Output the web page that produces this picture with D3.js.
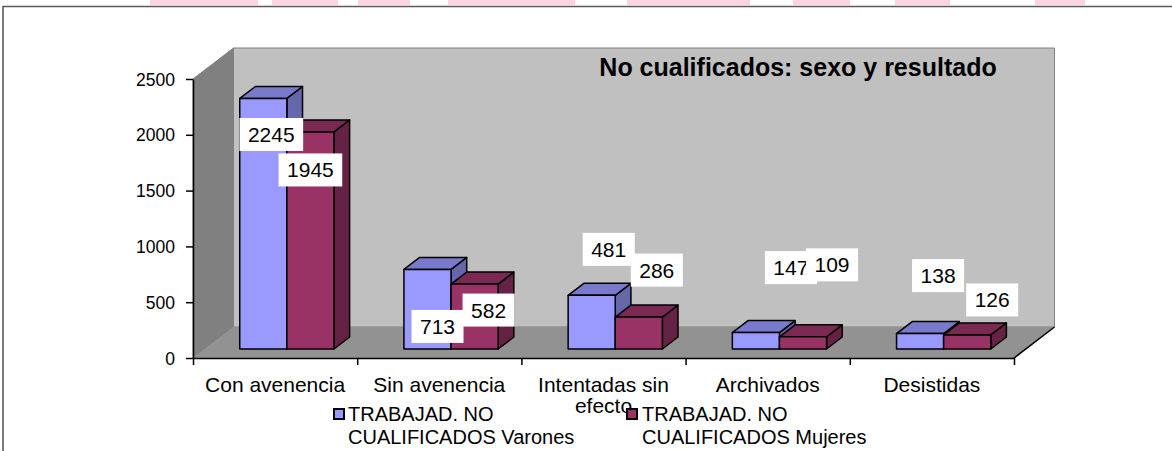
<!DOCTYPE html>
<html><head><meta charset="utf-8">
<script src="https://cdn.jsdelivr.net/npm/d3@7"></script>
<style>
body{margin:0;background:#fff}
svg{display:block}
text{font-family:Arial,"Liberation Sans",sans-serif;fill:#000}
</style>
</head><body>
<svg id="c" width="1172" height="451"></svg>
<script>
// ---------- data ----------
const categories = [["Con avenencia"],["Sin avenencia"],["Intentadas sin","efecto"],["Archivados"],["Desistidas"]];
const varones = [2245, 713, 481, 147, 138];
const mujeres = [1945, 582, 286, 109, 126];
const seriesNames = [["TRABAJAD. NO","CUALIFICADOS Varones"],["TRABAJAD. NO","CUALIFICADOS Mujeres"]];
const yTicks = [0, 500, 1000, 1500, 2000, 2500];
const chartTitle = "No cualificados: sexo y resultado";
// manual data-label nudges (px) relative to the top-front centre of each bar
const labelNudgeVarones = [[8,36],[10,57],[17,-46],[35,-65],[18,-58]];
const labelNudgeMujeres = [[0,38],[14,26],[18,-47],[29,-72],[25,-35]];

// ---------- layout ----------
const svg = d3.select("#c");
const X0 = 193, X1 = 1014, YB = 358, YT = 79;
const DX = 40.5, DY = -31;          // full depth of the 3-D box
const F0 = 0.29, F1 = 0.677;        // bars occupy this depth slice
const colors = [
  {front:"#9999FF", top:"#7A7ACC", side:"#6666AA"},
  {front:"#993366", top:"#7A2952", side:"#662244"}
];

const y = d3.scaleLinear().domain([0, 2500]).range([YB, YT]);
const xCat = d3.scaleBand().domain(d3.range(categories.length)).range([X0, X1]);
const xSer = d3.scaleBand().domain([0,1]).range([35, xCat.bandwidth() - 35]);
const xTick = d3.scaleLinear().domain([0, categories.length]).range([X0, X1]);

// decorative strip at top of the image
const strip = [[150,258],[272,338],[358,410],[448,575],[627,750],[793,850],[895,950],[1035,1085]];
svg.selectAll("rect.strip").data(strip).join("rect")
  .attr("x", d => d[0]).attr("y", 0).attr("width", d => d[1]-d[0]).attr("height", 5)
  .attr("fill", "#fcd3e2");

// outer frame (top and left edges)
svg.append("path").attr("d", "M3,451 L3,6.5 L1172,6.5")
  .attr("fill", "none").attr("stroke", "#5a5a5a").attr("stroke-width", 1.6);

// walls
const pts = a => a.map(p => p.join(",")).join(" ");
svg.append("polygon").attr("points", pts([[X0+DX,YT+DY],[X1+DX,YT+DY],[X1+DX,YB+DY],[X0+DX,YB+DY]]))
  .attr("fill", "#C0C0C0").attr("stroke", "#808080").attr("stroke-width", 1);
svg.append("polygon").attr("points", pts([[X0,YB],[X0,YT],[X0+DX,YT+DY],[X0+DX,YB+DY]]))
  .attr("fill", "#808080").attr("stroke", "#808080").attr("stroke-width", 1);
svg.append("polygon").attr("points", pts([[X0,YB],[X1,YB],[X1+DX,YB+DY],[X0+DX,YB+DY]]))
  .attr("fill", "#929292");
svg.append("line").attr("x1", X1).attr("y1", YB).attr("x2", X1+DX).attr("y2", YB+DY)
  .attr("stroke", "#000").attr("stroke-width", 1.5);

// title
svg.append("text").attr("x", 798).attr("y", 76).attr("text-anchor", "middle")
  .attr("font-size", 25).attr("font-weight", "bold").text(chartTitle);

// bars
const ox = F0*DX, oy = F0*DY, ddx = (F1-F0)*DX, ddy = (F1-F0)*DY;
const series = [varones, mujeres];
const bars = [];
categories.forEach((c, i) => {
  series.forEach((vals, s) => {
    const xl = xCat(i) + xSer(s) + ox, xr = xl + xSer.bandwidth();
    const yt = y(vals[i]) + oy, yb = y(0) + oy;
    bars.push({i, s, v: vals[i], xl, xr, yt, yb});
  });
});
const g = svg.append("g").attr("stroke", "#000").attr("stroke-width", 1.5).attr("stroke-linejoin", "round");
bars.forEach(b => {
  const col = colors[b.s];
  g.append("polygon").attr("points", pts([[b.xr,b.yt],[b.xr+ddx,b.yt+ddy],[b.xr+ddx,b.yb+ddy],[b.xr,b.yb]]))
    .attr("fill", col.side);
  g.append("polygon").attr("points", pts([[b.xl,b.yt],[b.xl+ddx,b.yt+ddy],[b.xr+ddx,b.yt+ddy],[b.xr,b.yt]]))
    .attr("fill", col.top);
  g.append("rect").attr("x", b.xl).attr("y", b.yt).attr("width", b.xr-b.xl).attr("height", b.yb-b.yt)
    .attr("fill", col.front);
});

// axes
const yAxis = svg.append("g").attr("transform", `translate(${X0},0)`)
  .call(d3.axisLeft(y).tickValues(yTicks).tickFormat(d3.format("d")).tickSize(7).tickSizeOuter(0).tickPadding(11));
yAxis.selectAll("text").attr("font-size", 17.5).attr("font-family", "Arial, 'Liberation Sans', sans-serif").attr("fill", "#000").attr("dy", "0.35em");
yAxis.selectAll("line,path").attr("stroke", "#000").attr("stroke-width", 1.5);

const xAxis = svg.append("g").attr("transform", `translate(0,${YB})`)
  .call(d3.axisBottom(xTick).tickValues(d3.range(categories.length+1)).tickFormat("").tickSize(7).tickSizeOuter(0));
xAxis.selectAll("line,path").attr("stroke", "#000").attr("stroke-width", 1.5);

// category labels
categories.forEach((lines, i) => {
  const t = svg.append("text").attr("x", xCat(i) + xCat.bandwidth()/2).attr("y", 392)
    .attr("text-anchor", "middle").attr("font-size", 21);
  lines.forEach((ln, k) => t.append("tspan").attr("x", xCat(i) + xCat.bandwidth()/2)
    .attr("y", 392 + k*21).text(ln));
});

// data labels
const nudges = [labelNudgeVarones, labelNudgeMujeres];
[0,1].forEach(s => {
  bars.filter(b => b.s === s).forEach(b => {
    const [nx, ny] = nudges[s][b.i];
    const cx = (b.xl + b.xr)/2 + nx, cy = b.yt + ny;
    const lg = svg.append("g");
    const r = lg.append("rect").attr("fill", "#fff");
    const t = lg.append("text").attr("x", cx).attr("y", cy + 7.5).attr("text-anchor", "middle")
      .attr("font-size", 21).text(b.v);
    const w = t.node().getComputedTextLength() + 17;
    r.attr("x", cx - w/2).attr("y", cy - 16.5).attr("width", w).attr("height", 33);
  });
});

// legend
const legendPos = [[334, 348], [627, 642]];
seriesNames.forEach((lines, s) => {
  const [mx, tx] = legendPos[s];
  svg.append("rect").attr("x", mx).attr("y", 409).attr("width", 10).attr("height", 10)
    .attr("fill", colors[s].front).attr("stroke", "#000").attr("stroke-width", 2);
  const t = svg.append("text").attr("font-size", 20);
  lines.forEach((ln, k) => t.append("tspan").attr("x", tx).attr("y", 421 + k*23).text(ln));
});
</script>
</body></html>
